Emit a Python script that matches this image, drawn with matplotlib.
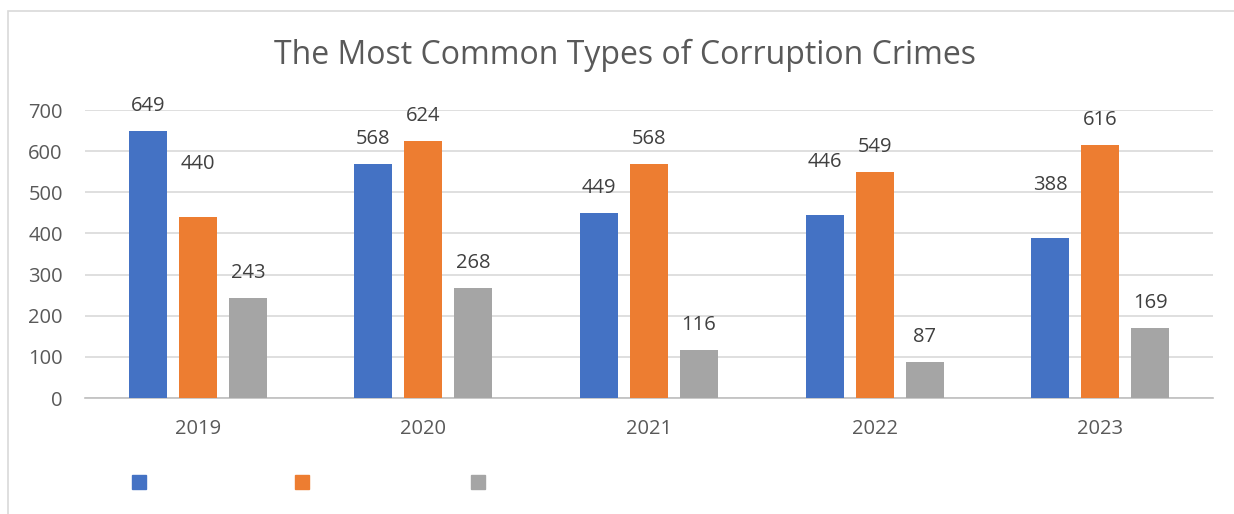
import matplotlib.pyplot as plt
from matplotlib.patches import Rectangle
import numpy as np

years = ["2019", "2020", "2021", "2022", "2023"]
series_a = [649, 568, 449, 446, 388]
series_b = [440, 624, 568, 549, 616]
series_c = [243, 268, 116, 87, 169]
colors = ["#4472c4", "#ed7d31", "#a5a5a5"]
# a few labels were lifted higher in the original chart
lifted = [[False, False, False, True, True],
          [True, False, False, False, False],
          [False, False, False, False, False]]

W, H = 1234, 514
fig = plt.figure(figsize=(W / 100, H / 100), dpi=100)
plt.rcParams['font.family'] = ['Open Sans', 'DejaVu Sans']

# outer chart frame (cropped at right and bottom)
fig.patches.append(Rectangle((8 / W, -0.1), 1.2, 1 - 11 / H + 0.1,
                             transform=fig.transFigure, fill=False,
                             edgecolor="#d9d9d9", lw=1.2))

ax = fig.add_axes([85 / W, 1 - 398 / H, 1128 / W, (398 - 110) / H])
x = np.arange(len(years))
width = 0.168
step = 0.2217
px = 700 / 288  # data units per pixel
for i, (vals, c) in enumerate(zip([series_a, series_b, series_c], colors)):
    bars = ax.bar(x + (i - 1) * step, vals, width, color=c, zorder=3)
    for b, v, up in zip(bars, vals, lifted[i]):
        off = (53 if up else 25) * px
        ax.text(b.get_x() + b.get_width() / 2, v + off, str(v), ha="center",
                va="center", fontsize=14.5, color="#404040", clip_on=False)

ax.set_xlim(-0.5, len(years) - 0.5)
ax.set_ylim(0, 700)
ax.set_yticks(range(0, 701, 100))
ax.set_xticks(x)
ax.set_xticklabels(years)
ax.grid(axis="y", color="#d9d9d9", lw=1.2, zorder=0)
for s in ["top", "right", "left"]:
    ax.spines[s].set_visible(False)
ax.spines["bottom"].set_color("#bfbfbf")
ax.spines["bottom"].set_linewidth(1.2)
ax.tick_params(length=0, labelsize=14.5, colors="#595959", pad=15)
ax.tick_params(axis="y", pad=16)

fig.text(625 / W, 1 - 55 / H, "The Most Common Types of Corruption Crimes",
         ha="center", va="center", fontsize=23, color="#595959")

# legend squares without labels
for xpos, c in zip([132, 295, 471], colors):
    fig.patches.append(Rectangle((xpos / W, 1 - 489 / H), 14 / W, 14 / H,
                                 transform=fig.transFigure, color=c))

fig.savefig("out.png", dpi=100, facecolor="white")
